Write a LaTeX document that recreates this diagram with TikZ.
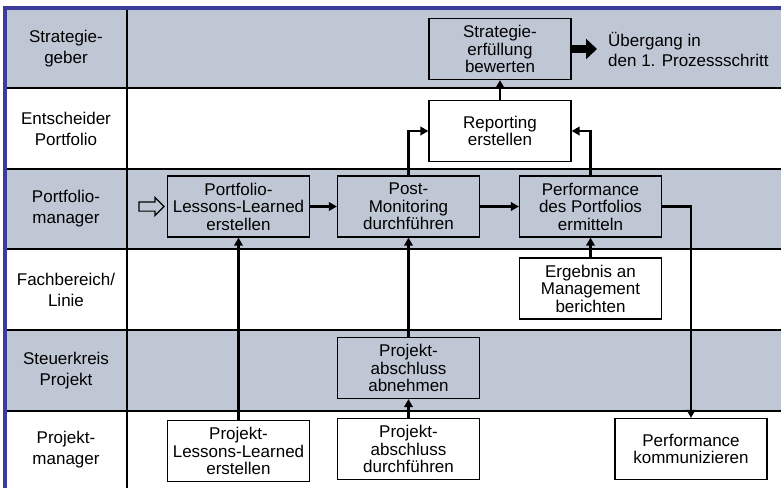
\documentclass[tikz,border=0pt]{standalone}
\usepackage{fontspec}
\setmainfont{Liberation Sans}
\usetikzlibrary{arrows.meta,shapes.arrows}
\definecolor{lanegray}{RGB}{191,199,213}
\definecolor{frameblue}{RGB}{60,60,156}

\begin{document}
\begin{tikzpicture}[x=1pt, y=-1pt,
    box/.style = {draw, line width=1.2pt, minimum width=142pt, minimum height=61pt, inner sep=0pt, align=center, font=\fontsize{17}{17.5}\selectfont},
    role/.style = {align=center, font=\fontsize{17}{21}\selectfont},
    flow/.style = {line width=2.6pt, -{Triangle[length=8pt,width=8.5pt]}}]
  \useasboundingbox (0,0) rectangle (781,488);
  % lanes
  \foreach \top/\bot in {10/88, 169/249, 330/411}
    \fill[lanegray] (5,\top) rectangle (781,\bot);
  \foreach \y in {88,169,249,330,411}
    \draw[line width=1.7pt] (5,\y) -- (781,\y);
  \draw[line width=1.7pt] (127,10) -- (127,488);
  \draw[frameblue, line width=4pt] (3,8) -- (781,8);
  \draw[frameblue, line width=4pt] (5,6) -- (5,488);
  % roles
  \node[role] (strat) at (66,49) {Strategie-\\geber};
  \node[role] (entsch) at (66,129) {Entscheider\\Portfolio};
  \node[role] (pfm) at (66,209) {Portfolio-\\manager};
  \node[role] (fach) at (66,290) {Fachbereich/\\Linie};
  \node[role] (steuer) at (66,371) {Steuerkreis\\Projekt};
  \node[role] (prm) at (66,450) {Projekt-\\manager};
  % boxes
  \node[box, fill=lanegray] (sb) at (500,49) {Strategie-\\erfüllung\\bewerten};
  \node[box, fill=white] (rep) at (500,131) {Reporting\\erstellen};
  \node[box, fill=lanegray] (pll) at (238.5,206.5) {Portfolio-\\Lessons-Learned\\erstellen};
  \node[box, fill=lanegray] (pm) at (408.5,206.5) {Post-\\Monitoring\\durchführen};
  \node[box, fill=lanegray] (perf) at (590.5,206.5) {Performance\\des Portfolios\\ermitteln};
  \node[box, fill=white] (erg) at (590.5,288.5) {Ergebnis an\\Management\\berichten};
  \node[box, fill=lanegray] (pab) at (408.5,368) {Projekt-\\abschluss\\abnehmen};
  \node[box, fill=white] (pdf) at (408.5,449) {Projekt-\\abschluss\\durchführen};
  \node[box, fill=white] (plle) at (238.5,451) {Projekt-\\Lessons-Learned\\erstellen};
  \node[box, fill=white, minimum width=152pt] (pk) at (691,449) {Performance\\kommunizieren};
  \node[anchor=west, inner sep=0pt, align=left, font=\fontsize{17}{20}\selectfont] (ueb) at (608,49) {Übergang in\\den 1. Prozessschritt};
  % start arrow
  \node[single arrow, draw, line width=1.2pt, minimum height=25pt, inner sep=0pt, inner ysep=4pt,
        single arrow head extend=4.5pt, anchor=tip] (start) at ([xshift=-2pt]pll.west) {};
  % connectors
  \draw[flow] (pll) -- (pm);
  \draw[flow] (pm) -- (perf);
  \draw[flow] (pm.north) |- (rep.west);
  \draw[flow] (perf.north) |- (rep.east);
  \draw[flow] (rep) -- (sb);
  \draw[flow] (erg) -- (perf);
  \draw[flow] (perf.east) -| (pk.north);
  \draw[flow] (pab) -- (pm);
  \draw[flow] (pdf) -- (pab);
  \draw[flow] (plle) -- (pll);
  \draw[line width=8pt, -{Triangle[length=11pt,width=20pt]}, shorten >=11pt] (sb.east) -- (ueb.west);
\end{tikzpicture}
\end{document}
